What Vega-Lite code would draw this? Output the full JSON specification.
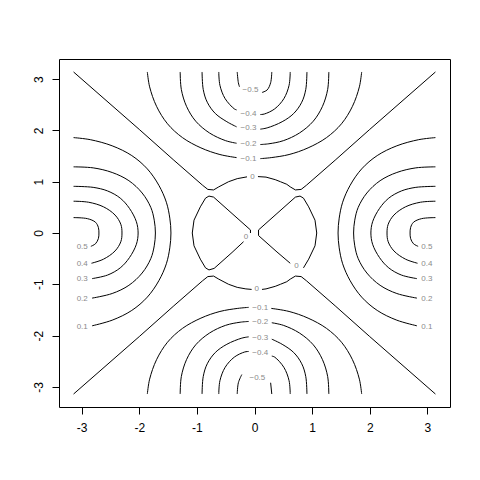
{
  "$schema": "https://vega.github.io/schema/vega-lite/v6.json",
  "autosize": {"type": "none"},
  "padding": {"left": 59, "top": 59, "right": 30, "bottom": 73},
  "width": 391,
  "height": 348,
  "background": "white",
  "config": {
    "view": {"stroke": "black", "strokeWidth": 1},
    "axis": {"grid": false, "domain": false, "tickColor": "black", "tickSize": 7, "tickWidth": 1, "labelColor": "black", "labelFont": "Liberation Sans", "labelFontSize": 12, "labelFlush": false, "labelOverlap": false, "title": null}
  },
  "datasets": {
    "lines": [
      {"c":"R1","i":0,"x":3.14,"y":1.86},{"c":"R1","i":1,"x":2.85,"y":1.82},{"c":"R1","i":2,"x":2.47,"y":1.70},{"c":"R1","i":3,"x":2.13,"y":1.51},{"c":"R1","i":4,"x":1.86,"y":1.25},{"c":"R1","i":5,"x":1.66,"y":0.93},{"c":"R1","i":6,"x":1.53,"y":0.60},{"c":"R1","i":7,"x":1.47,"y":0.29},{"c":"R1","i":8,"x":1.45,"y":0},{"c":"R1","i":9,"x":1.47,"y":-0.29},{"c":"R1","i":10,"x":1.53,"y":-0.60},{"c":"R1","i":11,"x":1.66,"y":-0.93},{"c":"R1","i":12,"x":1.86,"y":-1.25},{"c":"R1","i":13,"x":2.13,"y":-1.51},{"c":"R1","i":14,"x":2.47,"y":-1.70},{"c":"R1","i":15,"x":2.82,"y":-1.81},
      {"c":"L1","i":0,"x":-3.14,"y":1.86},{"c":"L1","i":1,"x":-2.85,"y":1.82},{"c":"L1","i":2,"x":-2.47,"y":1.70},{"c":"L1","i":3,"x":-2.13,"y":1.51},{"c":"L1","i":4,"x":-1.86,"y":1.25},{"c":"L1","i":5,"x":-1.66,"y":0.93},{"c":"L1","i":6,"x":-1.53,"y":0.60},{"c":"L1","i":7,"x":-1.47,"y":0.29},{"c":"L1","i":8,"x":-1.45,"y":0},{"c":"L1","i":9,"x":-1.47,"y":-0.29},{"c":"L1","i":10,"x":-1.53,"y":-0.60},{"c":"L1","i":11,"x":-1.66,"y":-0.93},{"c":"L1","i":12,"x":-1.86,"y":-1.25},{"c":"L1","i":13,"x":-2.13,"y":-1.51},{"c":"L1","i":14,"x":-2.47,"y":-1.70},{"c":"L1","i":15,"x":-2.82,"y":-1.81},
      {"c":"R2","i":0,"x":3.14,"y":1.29},{"c":"R2","i":1,"x":2.80,"y":1.27},{"c":"R2","i":2,"x":2.47,"y":1.18},{"c":"R2","i":3,"x":2.18,"y":1.02},{"c":"R2","i":4,"x":1.95,"y":0.78},{"c":"R2","i":5,"x":1.80,"y":0.50},{"c":"R2","i":6,"x":1.74,"y":0.25},{"c":"R2","i":7,"x":1.72,"y":0},{"c":"R2","i":8,"x":1.74,"y":-0.25},{"c":"R2","i":9,"x":1.80,"y":-0.50},{"c":"R2","i":10,"x":1.95,"y":-0.78},{"c":"R2","i":11,"x":2.18,"y":-1.02},{"c":"R2","i":12,"x":2.47,"y":-1.18},{"c":"R2","i":13,"x":2.82,"y":-1.27},
      {"c":"L2","i":0,"x":-3.14,"y":1.29},{"c":"L2","i":1,"x":-2.80,"y":1.27},{"c":"L2","i":2,"x":-2.47,"y":1.18},{"c":"L2","i":3,"x":-2.18,"y":1.02},{"c":"L2","i":4,"x":-1.95,"y":0.78},{"c":"L2","i":5,"x":-1.80,"y":0.50},{"c":"L2","i":6,"x":-1.74,"y":0.25},{"c":"L2","i":7,"x":-1.72,"y":0},{"c":"L2","i":8,"x":-1.74,"y":-0.25},{"c":"L2","i":9,"x":-1.80,"y":-0.50},{"c":"L2","i":10,"x":-1.95,"y":-0.78},{"c":"L2","i":11,"x":-2.18,"y":-1.02},{"c":"L2","i":12,"x":-2.47,"y":-1.18},{"c":"L2","i":13,"x":-2.82,"y":-1.27},
      {"c":"R3","i":0,"x":3.14,"y":0.91},{"c":"R3","i":1,"x":2.80,"y":0.89},{"c":"R3","i":2,"x":2.55,"y":0.82},{"c":"R3","i":3,"x":2.33,"y":0.68},{"c":"R3","i":4,"x":2.17,"y":0.48},{"c":"R3","i":5,"x":2.05,"y":0.22},{"c":"R3","i":6,"x":2.02,"y":0},{"c":"R3","i":7,"x":2.05,"y":-0.22},{"c":"R3","i":8,"x":2.17,"y":-0.48},{"c":"R3","i":9,"x":2.33,"y":-0.68},{"c":"R3","i":10,"x":2.55,"y":-0.82},{"c":"R3","i":11,"x":2.82,"y":-0.89},
      {"c":"L3","i":0,"x":-3.14,"y":0.91},{"c":"L3","i":1,"x":-2.80,"y":0.89},{"c":"L3","i":2,"x":-2.55,"y":0.82},{"c":"L3","i":3,"x":-2.33,"y":0.68},{"c":"L3","i":4,"x":-2.17,"y":0.48},{"c":"L3","i":5,"x":-2.05,"y":0.22},{"c":"L3","i":6,"x":-2.02,"y":0},{"c":"L3","i":7,"x":-2.05,"y":-0.22},{"c":"L3","i":8,"x":-2.17,"y":-0.48},{"c":"L3","i":9,"x":-2.33,"y":-0.68},{"c":"L3","i":10,"x":-2.55,"y":-0.82},{"c":"L3","i":11,"x":-2.82,"y":-0.89},
      {"c":"R4","i":0,"x":3.14,"y":0.62},{"c":"R4","i":1,"x":2.88,"y":0.60},{"c":"R4","i":2,"x":2.62,"y":0.51},{"c":"R4","i":3,"x":2.42,"y":0.35},{"c":"R4","i":4,"x":2.32,"y":0.17},{"c":"R4","i":5,"x":2.30,"y":0},{"c":"R4","i":6,"x":2.32,"y":-0.17},{"c":"R4","i":7,"x":2.42,"y":-0.35},{"c":"R4","i":8,"x":2.62,"y":-0.51},{"c":"R4","i":9,"x":2.83,"y":-0.59},
      {"c":"L4","i":0,"x":-3.14,"y":0.62},{"c":"L4","i":1,"x":-2.88,"y":0.60},{"c":"L4","i":2,"x":-2.62,"y":0.51},{"c":"L4","i":3,"x":-2.42,"y":0.35},{"c":"L4","i":4,"x":-2.32,"y":0.17},{"c":"L4","i":5,"x":-2.30,"y":0},{"c":"L4","i":6,"x":-2.32,"y":-0.17},{"c":"L4","i":7,"x":-2.42,"y":-0.35},{"c":"L4","i":8,"x":-2.62,"y":-0.51},{"c":"L4","i":9,"x":-2.83,"y":-0.59},
      {"c":"R5","i":0,"x":3.14,"y":0.30},{"c":"R5","i":1,"x":2.90,"y":0.28},{"c":"R5","i":2,"x":2.76,"y":0.21},{"c":"R5","i":3,"x":2.71,"y":0.11},{"c":"R5","i":4,"x":2.70,"y":0},{"c":"R5","i":5,"x":2.71,"y":-0.11},{"c":"R5","i":6,"x":2.76,"y":-0.21},{"c":"R5","i":7,"x":2.84,"y":-0.26},
      {"c":"L5","i":0,"x":-3.14,"y":0.30},{"c":"L5","i":1,"x":-2.90,"y":0.28},{"c":"L5","i":2,"x":-2.76,"y":0.21},{"c":"L5","i":3,"x":-2.71,"y":0.11},{"c":"L5","i":4,"x":-2.70,"y":0},{"c":"L5","i":5,"x":-2.71,"y":-0.11},{"c":"L5","i":6,"x":-2.76,"y":-0.21},{"c":"L5","i":7,"x":-2.84,"y":-0.26},
      {"c":"T1a","i":0,"x":0.10,"y":1.45},{"c":"T1a","i":1,"x":0.29,"y":1.47},{"c":"T1a","i":2,"x":0.60,"y":1.53},{"c":"T1a","i":3,"x":0.93,"y":1.66},{"c":"T1a","i":4,"x":1.25,"y":1.86},{"c":"T1a","i":5,"x":1.51,"y":2.13},{"c":"T1a","i":6,"x":1.70,"y":2.47},{"c":"T1a","i":7,"x":1.82,"y":2.85},{"c":"T1a","i":8,"x":1.86,"y":3.14},
      {"c":"T1b","i":0,"x":-0.31,"y":1.47},{"c":"T1b","i":1,"x":-0.60,"y":1.53},{"c":"T1b","i":2,"x":-0.93,"y":1.66},{"c":"T1b","i":3,"x":-1.25,"y":1.86},{"c":"T1b","i":4,"x":-1.51,"y":2.13},{"c":"T1b","i":5,"x":-1.70,"y":2.47},{"c":"T1b","i":6,"x":-1.82,"y":2.85},{"c":"T1b","i":7,"x":-1.86,"y":3.14},
      {"c":"B1a","i":0,"x":-0.10,"y":-1.45},{"c":"B1a","i":1,"x":-0.29,"y":-1.47},{"c":"B1a","i":2,"x":-0.60,"y":-1.53},{"c":"B1a","i":3,"x":-0.93,"y":-1.66},{"c":"B1a","i":4,"x":-1.25,"y":-1.86},{"c":"B1a","i":5,"x":-1.51,"y":-2.13},{"c":"B1a","i":6,"x":-1.70,"y":-2.47},{"c":"B1a","i":7,"x":-1.82,"y":-2.85},{"c":"B1a","i":8,"x":-1.86,"y":-3.14},
      {"c":"B1b","i":0,"x":0.29,"y":-1.47},{"c":"B1b","i":1,"x":0.60,"y":-1.53},{"c":"B1b","i":2,"x":0.93,"y":-1.66},{"c":"B1b","i":3,"x":1.25,"y":-1.86},{"c":"B1b","i":4,"x":1.51,"y":-2.13},{"c":"B1b","i":5,"x":1.70,"y":-2.47},{"c":"B1b","i":6,"x":1.82,"y":-2.85},{"c":"B1b","i":7,"x":1.86,"y":-3.14},
      {"c":"T2a","i":0,"x":0.10,"y":1.725},{"c":"T2a","i":1,"x":0.25,"y":1.74},{"c":"T2a","i":2,"x":0.50,"y":1.80},{"c":"T2a","i":3,"x":0.78,"y":1.95},{"c":"T2a","i":4,"x":1.02,"y":2.18},{"c":"T2a","i":5,"x":1.18,"y":2.47},{"c":"T2a","i":6,"x":1.27,"y":2.80},{"c":"T2a","i":7,"x":1.29,"y":3.14},
      {"c":"T2b","i":0,"x":-0.31,"y":1.75},{"c":"T2b","i":1,"x":-0.50,"y":1.80},{"c":"T2b","i":2,"x":-0.78,"y":1.95},{"c":"T2b","i":3,"x":-1.02,"y":2.18},{"c":"T2b","i":4,"x":-1.18,"y":2.47},{"c":"T2b","i":5,"x":-1.27,"y":2.80},{"c":"T2b","i":6,"x":-1.29,"y":3.14},
      {"c":"B2a","i":0,"x":-0.10,"y":-1.725},{"c":"B2a","i":1,"x":-0.25,"y":-1.74},{"c":"B2a","i":2,"x":-0.50,"y":-1.80},{"c":"B2a","i":3,"x":-0.78,"y":-1.95},{"c":"B2a","i":4,"x":-1.02,"y":-2.18},{"c":"B2a","i":5,"x":-1.18,"y":-2.47},{"c":"B2a","i":6,"x":-1.27,"y":-2.80},{"c":"B2a","i":7,"x":-1.29,"y":-3.14},
      {"c":"B2b","i":0,"x":0.30,"y":-1.75},{"c":"B2b","i":1,"x":0.50,"y":-1.80},{"c":"B2b","i":2,"x":0.78,"y":-1.95},{"c":"B2b","i":3,"x":1.02,"y":-2.18},{"c":"B2b","i":4,"x":1.18,"y":-2.47},{"c":"B2b","i":5,"x":1.27,"y":-2.80},{"c":"B2b","i":6,"x":1.29,"y":-3.14},
      {"c":"T3a","i":0,"x":0.10,"y":2.025},{"c":"T3a","i":1,"x":0.22,"y":2.05},{"c":"T3a","i":2,"x":0.48,"y":2.17},{"c":"T3a","i":3,"x":0.68,"y":2.33},{"c":"T3a","i":4,"x":0.82,"y":2.55},{"c":"T3a","i":5,"x":0.89,"y":2.80},{"c":"T3a","i":6,"x":0.91,"y":3.14},
      {"c":"T3b","i":0,"x":-0.31,"y":2.07},{"c":"T3b","i":1,"x":-0.48,"y":2.17},{"c":"T3b","i":2,"x":-0.68,"y":2.33},{"c":"T3b","i":3,"x":-0.82,"y":2.55},{"c":"T3b","i":4,"x":-0.89,"y":2.80},{"c":"T3b","i":5,"x":-0.91,"y":3.14},
      {"c":"B3a","i":0,"x":-0.10,"y":-2.025},{"c":"B3a","i":1,"x":-0.22,"y":-2.05},{"c":"B3a","i":2,"x":-0.48,"y":-2.17},{"c":"B3a","i":3,"x":-0.68,"y":-2.33},{"c":"B3a","i":4,"x":-0.82,"y":-2.55},{"c":"B3a","i":5,"x":-0.89,"y":-2.80},{"c":"B3a","i":6,"x":-0.91,"y":-3.14},
      {"c":"B3b","i":0,"x":0.30,"y":-2.07},{"c":"B3b","i":1,"x":0.48,"y":-2.17},{"c":"B3b","i":2,"x":0.68,"y":-2.33},{"c":"B3b","i":3,"x":0.82,"y":-2.55},{"c":"B3b","i":4,"x":0.89,"y":-2.80},{"c":"B3b","i":5,"x":0.91,"y":-3.14},
      {"c":"T4a","i":0,"x":0.10,"y":2.31},{"c":"T4a","i":1,"x":0.17,"y":2.32},{"c":"T4a","i":2,"x":0.35,"y":2.42},{"c":"T4a","i":3,"x":0.51,"y":2.62},{"c":"T4a","i":4,"x":0.60,"y":2.88},{"c":"T4a","i":5,"x":0.62,"y":3.14},
      {"c":"T4b","i":0,"x":-0.31,"y":2.40},{"c":"T4b","i":1,"x":-0.35,"y":2.42},{"c":"T4b","i":2,"x":-0.51,"y":2.62},{"c":"T4b","i":3,"x":-0.60,"y":2.88},{"c":"T4b","i":4,"x":-0.62,"y":3.14},
      {"c":"B4a","i":0,"x":-0.10,"y":-2.31},{"c":"B4a","i":1,"x":-0.17,"y":-2.32},{"c":"B4a","i":2,"x":-0.35,"y":-2.42},{"c":"B4a","i":3,"x":-0.51,"y":-2.62},{"c":"B4a","i":4,"x":-0.60,"y":-2.88},{"c":"B4a","i":5,"x":-0.62,"y":-3.14},
      {"c":"B4b","i":0,"x":0.30,"y":-2.40},{"c":"B4b","i":1,"x":0.35,"y":-2.42},{"c":"B4b","i":2,"x":0.51,"y":-2.62},{"c":"B4b","i":3,"x":0.60,"y":-2.88},{"c":"B4b","i":4,"x":0.62,"y":-3.14},
      {"c":"T5a","i":0,"x":0.13,"y":2.74},{"c":"T5a","i":1,"x":0.22,"y":2.79},{"c":"T5a","i":2,"x":0.28,"y":2.93},{"c":"T5a","i":3,"x":0.30,"y":3.14},
      {"c":"T5b","i":0,"x":-0.26,"y":2.85},{"c":"T5b","i":1,"x":-0.28,"y":2.93},{"c":"T5b","i":2,"x":-0.30,"y":3.14},
      {"c":"B5a","i":0,"x":-0.22,"y":-2.76},{"c":"B5a","i":1,"x":-0.28,"y":-2.92},{"c":"B5a","i":2,"x":-0.30,"y":-3.14},
      {"c":"B5b","i":0,"x":0.28,"y":-2.92},{"c":"B5b","i":1,"x":0.30,"y":-3.14},
      {"c":"ZTL","i":0,"x":-3.14,"y":3.14},{"c":"ZTL","i":1,"x":-2.0,"y":2.02},{"c":"ZTL","i":2,"x":-1.40,"y":1.42},{"c":"ZTL","i":3,"x":-0.90,"y":0.93},{"c":"ZTL","i":4,"x":-0.81,"y":0.85},{"c":"ZTL","i":5,"x":-0.71,"y":0.84},{"c":"ZTL","i":6,"x":-0.62,"y":0.90},{"c":"ZTL","i":7,"x":-0.45,"y":1.00},{"c":"ZTL","i":8,"x":-0.30,"y":1.06},{"c":"ZTL","i":9,"x":-0.13,"y":1.095},
      {"c":"ZTR","i":0,"x":0.06,"y":1.10},{"c":"ZTR","i":1,"x":0.20,"y":1.09},{"c":"ZTR","i":2,"x":0.36,"y":1.04},{"c":"ZTR","i":3,"x":0.45,"y":1.00},{"c":"ZTR","i":4,"x":0.56,"y":0.95},{"c":"ZTR","i":5,"x":0.62,"y":0.90},{"c":"ZTR","i":6,"x":0.71,"y":0.84},{"c":"ZTR","i":7,"x":0.81,"y":0.85},{"c":"ZTR","i":8,"x":0.90,"y":0.93},{"c":"ZTR","i":9,"x":1.40,"y":1.42},{"c":"ZTR","i":10,"x":2.0,"y":2.02},{"c":"ZTR","i":11,"x":3.14,"y":3.14},
      {"c":"ZBL","i":0,"x":-3.14,"y":-3.14},{"c":"ZBL","i":1,"x":-2.0,"y":-2.02},{"c":"ZBL","i":2,"x":-1.40,"y":-1.42},{"c":"ZBL","i":3,"x":-0.90,"y":-0.93},{"c":"ZBL","i":4,"x":-0.81,"y":-0.85},{"c":"ZBL","i":5,"x":-0.71,"y":-0.84},{"c":"ZBL","i":6,"x":-0.62,"y":-0.90},{"c":"ZBL","i":7,"x":-0.45,"y":-1.00},{"c":"ZBL","i":8,"x":-0.30,"y":-1.06},{"c":"ZBL","i":9,"x":-0.15,"y":-1.09},{"c":"ZBL","i":10,"x":-0.05,"y":-1.10},
      {"c":"ZBR","i":0,"x":0.13,"y":-1.10},{"c":"ZBR","i":1,"x":0.20,"y":-1.09},{"c":"ZBR","i":2,"x":0.36,"y":-1.04},{"c":"ZBR","i":3,"x":0.45,"y":-1.00},{"c":"ZBR","i":4,"x":0.56,"y":-0.95},{"c":"ZBR","i":5,"x":0.62,"y":-0.90},{"c":"ZBR","i":6,"x":0.71,"y":-0.84},{"c":"ZBR","i":7,"x":0.81,"y":-0.85},{"c":"ZBR","i":8,"x":0.90,"y":-0.93},{"c":"ZBR","i":9,"x":1.40,"y":-1.42},{"c":"ZBR","i":10,"x":2.0,"y":-2.02},{"c":"ZBR","i":11,"x":3.14,"y":-3.14},
      {"c":"ZR","i":0,"x":0.85,"y":-0.68},{"c":"ZR","i":1,"x":0.94,"y":-0.51},{"c":"ZR","i":2,"x":1.05,"y":-0.25},{"c":"ZR","i":3,"x":1.08,"y":0},{"c":"ZR","i":4,"x":1.05,"y":0.25},{"c":"ZR","i":5,"x":0.94,"y":0.51},{"c":"ZR","i":6,"x":0.85,"y":0.68},{"c":"ZR","i":7,"x":0.79,"y":0.72},{"c":"ZR","i":8,"x":0.71,"y":0.70},{"c":"ZR","i":9,"x":0.39,"y":0.38},{"c":"ZR","i":10,"x":0.07,"y":0.06},{"c":"ZR","i":11,"x":0.07,"y":-0.05},{"c":"ZR","i":12,"x":0.39,"y":-0.37},{"c":"ZR","i":13,"x":0.62,"y":-0.59},
      {"c":"ZL","i":0,"x":-0.19,"y":-0.17},{"c":"ZL","i":1,"x":-0.39,"y":-0.38},{"c":"ZL","i":2,"x":-0.70,"y":-0.69},{"c":"ZL","i":3,"x":-0.79,"y":-0.72},{"c":"ZL","i":4,"x":-0.85,"y":-0.68},{"c":"ZL","i":5,"x":-0.94,"y":-0.51},{"c":"ZL","i":6,"x":-1.05,"y":-0.25},{"c":"ZL","i":7,"x":-1.08,"y":0},{"c":"ZL","i":8,"x":-1.05,"y":0.25},{"c":"ZL","i":9,"x":-0.94,"y":0.51},{"c":"ZL","i":10,"x":-0.85,"y":0.68},{"c":"ZL","i":11,"x":-0.79,"y":0.72},{"c":"ZL","i":12,"x":-0.71,"y":0.70},{"c":"ZL","i":13,"x":-0.39,"y":0.38},{"c":"ZL","i":14,"x":-0.07,"y":0.06},{"c":"ZL","i":15,"x":-0.07,"y":0.0}
    ],
    "labels": [
      {"t":"0.1","x":2.99,"y":-1.83},{"t":"0.2","x":2.99,"y":-1.28},{"t":"0.3","x":2.99,"y":-0.90},{"t":"0.4","x":2.99,"y":-0.60},{"t":"0.5","x":2.99,"y":-0.28},
      {"t":"0.1","x":-2.99,"y":-1.83},{"t":"0.2","x":-2.99,"y":-1.28},{"t":"0.3","x":-2.99,"y":-0.90},{"t":"0.4","x":-2.99,"y":-0.60},{"t":"0.5","x":-2.99,"y":-0.28},
      {"t":"−0.1","x":-0.105,"y":1.45},{"t":"−0.2","x":-0.105,"y":1.735},{"t":"−0.3","x":-0.105,"y":2.04},{"t":"−0.4","x":-0.105,"y":2.33},{"t":"−0.5","x":-0.07,"y":2.78},{"t":"0","x":-0.035,"y":1.10},
      {"t":"−0.1","x":0.10,"y":-1.455},{"t":"−0.2","x":0.10,"y":-1.745},{"t":"−0.3","x":0.10,"y":-2.04},{"t":"−0.4","x":0.10,"y":-2.34},{"t":"−0.5","x":0.05,"y":-2.82},{"t":"0","x":0.04,"y":-1.10},
      {"t":"0","x":0.73,"y":-0.65},{"t":"0","x":-0.15,"y":-0.08}
    ]
  },
  "encoding": {
    "x": {"field": "x", "type": "quantitative", "scale": {"domain": [-3.393, 3.393], "nice": false, "zero": false},
          "axis": {"values": [-3, -2, -1, 0, 1, 2, 3], "labelPadding": 8, "labelExpr": "'' + datum.value"}},
    "y": {"field": "y", "type": "quantitative", "scale": {"domain": [-3.393, 3.393], "nice": false, "zero": false},
          "axis": {"values": [-3, -2, -1, 0, 1, 2, 3], "labelAngle": -90, "labelAlign": "center", "labelBaseline": "bottom", "labelPadding": 7, "labelExpr": "'' + datum.value"}}
  },
  "layer": [
    {
      "data": {"name": "lines"},
      "transform": [{"filter": "indexof(datum.c, 'Z') != 0"}],
      "mark": {"type": "line", "color": "black", "strokeWidth": 1, "interpolate": "catmull-rom"},
      "encoding": {"detail": {"field": "c"}, "order": {"field": "i", "type": "quantitative"}}
    },
    {
      "data": {"name": "lines"},
      "transform": [{"filter": "indexof(datum.c, 'Z') == 0"}],
      "mark": {"type": "line", "color": "black", "strokeWidth": 1},
      "encoding": {"detail": {"field": "c"}, "order": {"field": "i", "type": "quantitative"}}
    },
    {
      "data": {"name": "labels"},
      "mark": {"type": "text", "font": "Liberation Sans", "fontSize": 8, "color": "#8a8a8a", "align": "center", "baseline": "middle"},
      "encoding": {"text": {"field": "t"}}
    }
  ]
}
